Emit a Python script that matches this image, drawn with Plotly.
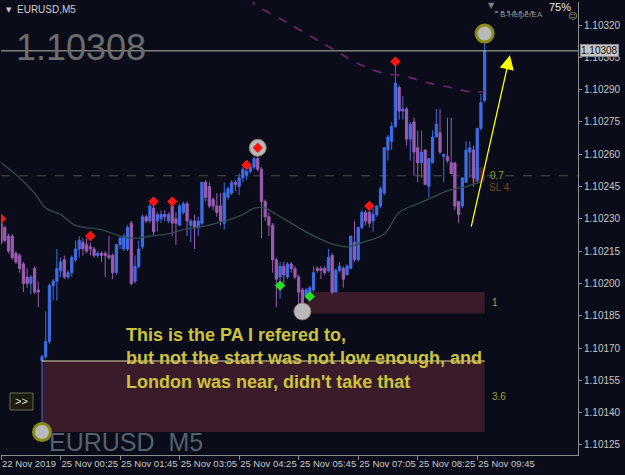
import plotly.graph_objects as go

# ---------------- data ----------------
bar_index = list(range(-11, 120))  # 5-minute bars, 0 = 25 Nov 00:00

opens = [1.10228, 1.10226, 1.10222, 1.10222, 1.10214, 1.10213, 1.10209, 1.10203, 1.10200, 1.10207, 1.10197,
         1.10164, 1.10166, 1.10173, 1.10199, 1.10201, 1.10206, 1.10211, 1.10203, 1.10205, 1.10211,
         1.10216, 1.10219, 1.10218, 1.10217, 1.10216, 1.10213, 1.10214, 1.10214, 1.10213, 1.10213,
         1.10205, 1.10218, 1.10216, 1.10216, 1.10228, 1.10201, 1.10208, 1.10217, 1.10231, 1.10229,
         1.10235, 1.10229, 1.10230, 1.10232, 1.10229, 1.10236, 1.10230, 1.10227, 1.10233, 1.10237,
         1.10227, 1.10229, 1.10226, 1.10228, 1.10247, 1.10245, 1.10239, 1.10236, 1.10236, 1.10228,
         1.10240, 1.10242, 1.10247, 1.10245, 1.10249, 1.10250, 1.10252, 1.10254, 1.10258, 1.10253,
         1.10238, 1.10231, 1.10227, 1.10211, 1.10203, 1.10208, 1.10203, 1.10209, 1.10207, 1.10203,
         1.10197, 1.10194, 1.10196, 1.10197, 1.10207, 1.10207, 1.10207, 1.10206, 1.10213, 1.10196,
         1.10206, 1.10207, 1.10204, 1.10207, 1.10219, 1.10211, 1.10226, 1.10233, 1.10233, 1.10229,
         1.10232, 1.10236, 1.10242, 1.10262, 1.10266, 1.10273, 1.10291, 1.10280, 1.10281, 1.10267,
         1.10275, 1.10263, 1.10256, 1.10262, 1.10245, 1.10256, 1.10268, 1.10270, 1.10259, 1.10259,
         1.10256, 1.10256, 1.10238, 1.10236, 1.10247, 1.10261, 1.10262, 1.10248, 1.10272, 1.10285]

highs = [1.10229, 1.10227, 1.10223, 1.10223, 1.10215, 1.10214, 1.10210, 1.10207, 1.10204, 1.10208, 1.10201,
         1.10167, 1.10187, 1.10200, 1.10202, 1.10216, 1.10212, 1.10213, 1.10206, 1.10213, 1.10220,
         1.10222, 1.10221, 1.10221, 1.10219, 1.10217, 1.10215, 1.10215, 1.10215, 1.10222, 1.10214,
         1.10218, 1.10222, 1.10223, 1.10227, 1.10229, 1.10213, 1.10220, 1.10232, 1.10232, 1.10237,
         1.10236, 1.10233, 1.10234, 1.10234, 1.10233, 1.10236, 1.10233, 1.10237, 1.10238, 1.10238,
         1.10230, 1.10232, 1.10231, 1.10247, 1.10248, 1.10247, 1.10240, 1.10242, 1.10242, 1.10247,
         1.10245, 1.10248, 1.10248, 1.10251, 1.10254, 1.10254, 1.10255, 1.10259, 1.10263, 1.10254,
         1.10239, 1.10233, 1.10228, 1.10212, 1.10210, 1.10210, 1.10210, 1.10210, 1.10208, 1.10204,
         1.10198, 1.10198, 1.10199, 1.10208, 1.10208, 1.10208, 1.10208, 1.10216, 1.10214, 1.10207,
         1.10210, 1.10208, 1.10209, 1.10222, 1.10229, 1.10226, 1.10234, 1.10234, 1.10234, 1.10235,
         1.10236, 1.10245, 1.10263, 1.10269, 1.10275, 1.10302, 1.10292, 1.10287, 1.10282, 1.10275,
         1.10277, 1.10271, 1.10271, 1.10262, 1.10258, 1.10271, 1.10281, 1.10281, 1.10260, 1.10277,
         1.10277, 1.10256, 1.10238, 1.10249, 1.10266, 1.10266, 1.10264, 1.10272, 1.10288, 1.10314]

lows = [1.10218, 1.10219, 1.10214, 1.10211, 1.10209, 1.10205, 1.10196, 1.10198, 1.10195, 1.10195, 1.10189,
        1.10131, 1.10165, 1.10172, 1.10192, 1.10192, 1.10203, 1.10202, 1.10202, 1.10203, 1.10210,
        1.10212, 1.10213, 1.10214, 1.10213, 1.10212, 1.10212, 1.10210, 1.10203, 1.10211, 1.10202,
        1.10204, 1.10216, 1.10215, 1.10215, 1.10199, 1.10200, 1.10207, 1.10216, 1.10228, 1.10228,
        1.10222, 1.10224, 1.10228, 1.10229, 1.10228, 1.10222, 1.10218, 1.10227, 1.10232, 1.10222,
        1.10219, 1.10216, 1.10222, 1.10227, 1.10238, 1.10235, 1.10234, 1.10231, 1.10227, 1.10225,
        1.10239, 1.10241, 1.10243, 1.10241, 1.10247, 1.10248, 1.10251, 1.10253, 1.10252, 1.10221,
        1.10229, 1.10222, 1.10205, 1.10189, 1.10193, 1.10199, 1.10202, 1.10205, 1.10202, 1.10190,
        1.10186, 1.10193, 1.10192, 1.10196, 1.10205, 1.10202, 1.10204, 1.10205, 1.10195, 1.10196,
        1.10205, 1.10198, 1.10204, 1.10207, 1.10210, 1.10210, 1.10225, 1.10227, 1.10226, 1.10224,
        1.10231, 1.10235, 1.10241, 1.10257, 1.10262, 1.10272, 1.10276, 1.10276, 1.10264, 1.10257,
        1.10250, 1.10247, 1.10249, 1.10246, 1.10240, 1.10256, 1.10268, 1.10260, 1.10247, 1.10256,
        1.10251, 1.10234, 1.10228, 1.10235, 1.10247, 1.10249, 1.10245, 1.10247, 1.10271, 1.10284]

closes = [1.10219, 1.10220, 1.10215, 1.10212, 1.10210, 1.10207, 1.10200, 1.10200, 1.10203, 1.10196, 1.10196,
          1.10166, 1.10173, 1.10199, 1.10201, 1.10207, 1.10210, 1.10203, 1.10205, 1.10212, 1.10216,
          1.10220, 1.10216, 1.10215, 1.10216, 1.10213, 1.10214, 1.10213, 1.10213, 1.10212, 1.10205,
          1.10218, 1.10221, 1.10222, 1.10226, 1.10200, 1.10208, 1.10216, 1.10231, 1.10229, 1.10236,
          1.10224, 1.10232, 1.10232, 1.10231, 1.10232, 1.10228, 1.10228, 1.10236, 1.10237, 1.10229,
          1.10229, 1.10226, 1.10229, 1.10247, 1.10240, 1.10236, 1.10236, 1.10233, 1.10229, 1.10242,
          1.10244, 1.10247, 1.10246, 1.10249, 1.10253, 1.10252, 1.10254, 1.10258, 1.10253, 1.10238,
          1.10231, 1.10227, 1.10211, 1.10202, 1.10208, 1.10204, 1.10209, 1.10207, 1.10203, 1.10196,
          1.10191, 1.10197, 1.10198, 1.10205, 1.10206, 1.10206, 1.10205, 1.10212, 1.10196, 1.10206,
          1.10208, 1.10202, 1.10208, 1.10222, 1.10211, 1.10226, 1.10233, 1.10229, 1.10228, 1.10232,
          1.10236, 1.10244, 1.10263, 1.10268, 1.10273, 1.10293, 1.10280, 1.10281, 1.10267, 1.10274,
          1.10261, 1.10256, 1.10261, 1.10246, 1.10258, 1.10268, 1.10274, 1.10261, 1.10260, 1.10257,
          1.10251, 1.10236, 1.10232, 1.10249, 1.10262, 1.10263, 1.10249, 1.10272, 1.10284, 1.10308]

tick_index = [-11, 5, 21, 37, 53, 69, 85, 101, 117]
tick_labels = ["22 Nov 2019", "25 Nov 00:25", "25 Nov 01:45", "25 Nov 03:05", "25 Nov 04:25",
               "25 Nov 05:45", "25 Nov 07:05", "25 Nov 08:25", "25 Nov 09:45"]
price_ticks = [1.10125, 1.10140, 1.10155, 1.10170, 1.10185, 1.10200, 1.10215, 1.10230,
               1.10245, 1.10260, 1.10275, 1.10290, 1.10305, 1.10320]

slow_ma_index = [-11, -6, -2, 1, 5, 9, 16, 21, 25, 29, 34, 38, 42, 47, 51, 54, 57, 60, 63, 67,
                 72, 77, 82, 86, 92, 96, 101, 105, 109, 114, 118]
slow_ma = [1.10256, 1.10249, 1.10242, 1.10235, 1.10232, 1.10227, 1.10225, 1.10222, 1.10221, 1.10222,
           1.10223, 1.10225, 1.10226, 1.10228, 1.10230, 1.10232, 1.10235, 1.10235, 1.10232, 1.10228,
           1.10223, 1.10219, 1.10217, 1.10219, 1.10223, 1.10233, 1.10237, 1.10240, 1.10243, 1.10245,
           1.10247]

fast_ma_index = [56, 57, 65, 73, 79, 85, 91, 98, 104, 110, 115, 119]
fast_ma = [1.10333, 1.10330, 1.10322, 1.10314, 1.10308, 1.10302, 1.10298, 1.10296, 1.10293,
           1.10291, 1.10289, 1.10289]

fractal_up_index = [-11, 13, 30, 35, 55, 58, 88, 95]
fractal_up_price = [1.10230, 1.10222, 1.10238, 1.10238, 1.10255, 1.10263, 1.10236, 1.10303]
fractal_dn_index = [64, 72]
fractal_dn_price = [1.10199, 1.10194]

circle_index = [0, 58, 70, 119]
circle_price = [1.10131, 1.10263, 1.10187, 1.10316]

zone_start = [0, 71.3]
zone_end = [119, 119]
zone_top = [1.10164, 1.10196]
zone_bottom = [1.10131, 1.10186]
zone_labels = ["3.6", "1"]

level_price = 1.10250
current_price = 1.10308
arrow_from = (115.3, 1.102257)
arrow_to = (125.8, 1.10306)

# ---------------- styling ----------------
BG = "#0a0d19"
BULL = "#3f6ce6"
BEAR = "#9a5cb0"
AXIS = "#8c8c8c"
TXT = "#c8c8c8"
FONT = "Liberation Sans"

W, H = 625, 475
ML, MR, MT, MB = 1, 47, 2, 20
PW, PH = W - ML - MR, H - MT - MB


def px(x):
    return (x - ML) / PW


def py(y):
    return 1 - (y - MT) / PH


fig = go.Figure()

# highlight circles (behind candles)
fig.add_trace(go.Scatter(
    x=circle_index, y=circle_price, mode="markers", hoverinfo="skip",
    marker=dict(size=17, color="rgba(200,200,200,0.92)",
                line=dict(color=["#8a8a14", "#8c7a60", "#8c7a60", "#8a8a14"], width=[3, 1, 1, 3]))))

# moving averages
fig.add_trace(go.Scatter(x=slow_ma_index, y=slow_ma, mode="lines", hoverinfo="skip",
                         line=dict(color="#2f4d4f", width=1.3, shape="spline")))
fig.add_trace(go.Scatter(x=fast_ma_index, y=fast_ma, mode="lines", hoverinfo="skip",
                         line=dict(color="#7a1f78", width=1.6, dash="dash", shape="spline")))

# candles
fig.add_trace(go.Candlestick(
    x=bar_index, open=opens, high=highs, low=lows, close=closes, whiskerwidth=0,
    increasing=dict(line=dict(color=BULL, width=1), fillcolor=BULL),
    decreasing=dict(line=dict(color=BEAR, width=1), fillcolor=BEAR),
    hoverinfo="skip"))

# fractal diamonds
fig.add_trace(go.Scatter(x=fractal_up_index, y=fractal_up_price, mode="markers", hoverinfo="skip",
                         marker=dict(symbol="diamond", size=8, color="#ff1414")))
fig.add_trace(go.Scatter(x=fractal_dn_index, y=fractal_dn_price, mode="markers", hoverinfo="skip",
                         marker=dict(symbol="diamond", size=8, color="#22e022")))

shapes = []
for xs, xe, top, bot in zip(zone_start, zone_end, zone_top, zone_bottom):
    shapes.append(dict(type="rect", xref="x", yref="y", x0=xs, x1=xe, y0=bot, y1=top,
                       fillcolor="#3a1b29", line=dict(width=0), layer="below"))
shapes.append(dict(type="rect", xref="x", yref="y", x0=115.5, x1=119, y0=1.10247, y1=1.10254,
                   fillcolor="#4a1f22", line=dict(width=0), layer="below"))
shapes.append(dict(type="line", xref="x", yref="y", x0=zone_start[0], x1=zone_end[0],
                   y0=zone_top[0], y1=zone_top[0], line=dict(color="#e8d6a8", width=1)))
shapes.append(dict(type="line", xref="paper", yref="y", x0=0, x1=1, y0=level_price, y1=level_price,
                   line=dict(color="#4c4c4c", width=1, dash="dash"), layer="below"))
shapes.append(dict(type="line", xref="paper", yref="y", x0=0, x1=1, y0=current_price, y1=current_price,
                   line=dict(color="#b8b8b8", width=1)))
# ">>" button
shapes.append(dict(type="rect", xref="paper", yref="paper", x0=px(10), x1=px(33), y0=py(410), y1=py(393),
                   fillcolor="#1c1c0e", line=dict(color="#6a6a5a", width=1)))
# top-right dotted line
shapes.append(dict(type="line", xref="paper", yref="paper", x0=px(495), x1=px(536), y0=py(12), y1=py(12),
                   line=dict(color="#d0d0d0", width=1, dash="dot")))

ann = []
ann.append(dict(xref="paper", yref="paper", x=px(14), y=py(48), xanchor="left", yanchor="middle",
                text="1.10308", showarrow=False, font=dict(family=FONT, size=36, color="#6c6c6c")))
ann.append(dict(xref="paper", yref="paper", x=px(4), y=py(10), xanchor="left", yanchor="middle",
                text="▼", showarrow=False, font=dict(family="DejaVu Sans", size=7, color="#c8c8c8")))
ann.append(dict(xref="paper", yref="paper", x=px(15), y=py(10), xanchor="left", yanchor="middle",
                text="EURUSD,M5", showarrow=False, font=dict(family=FONT, size=10, color="#d0d0d0")))
ann.append(dict(xref="paper", yref="paper", x=px(47), y=py(442), xanchor="left", yanchor="middle",
                text="EURUSD  M5", showarrow=False, font=dict(family=FONT, size=25, color="#55606e")))
lines = ["This is the PA I refered to,", "but not the start was not low enough, and",
         "London was near, didn't take that"]
for t, yy in zip(lines, [335, 358, 382]):
    ann.append(dict(xref="paper", yref="paper", x=px(124), y=py(yy), xanchor="left", yanchor="middle",
                    text=f"<b>{t}</b>", showarrow=False,
                    font=dict(family=FONT, size=18, color="#cdc33c")))
for lab, top, bot in zip(zone_labels, zone_top, zone_bottom):
    ann.append(dict(xref="x", yref="y", x=120.3, y=(top + bot) / 2, xanchor="left", yanchor="middle",
                    text=lab, showarrow=False, font=dict(family=FONT, size=10, color="#a0a038")))
ann.append(dict(xref="paper", yref="paper", x=px(488), y=py(176), xanchor="left", yanchor="middle",
                text="0.7", showarrow=False, font=dict(family=FONT, size=10, color="#9c9c30")))
ann.append(dict(xref="paper", yref="paper", x=px(487), y=py(187), xanchor="left", yanchor="middle",
                text="SL 4", showarrow=False, font=dict(family=FONT, size=10, color="#7a4a1c")))
ann.append(dict(xref="paper", yref="paper", x=px(21.5), y=py(401), xanchor="center", yanchor="middle",
                text=">>", showarrow=False, font=dict(family=FONT, size=11, color="#e0e0e0")))
# price label on axis
ann.append(dict(xref="paper", yref="y", x=px(580), y=current_price, xanchor="left", yanchor="middle",
                text="1.10308", showarrow=False, bgcolor="#c4c4c4", bordercolor="#8a8a8a", borderwidth=1,
                borderpad=0, font=dict(family=FONT, size=10, color="#101010")))
# top-right indicator texts
ann.append(dict(xref="paper", yref="paper", x=px(491), y=py(5), xanchor="center", yanchor="middle",
                text="▼", showarrow=False, font=dict(family="DejaVu Sans", size=8, color="#808080")))
ann.append(dict(xref="paper", yref="paper", x=px(545), y=py(14), xanchor="right", yanchor="middle",
                text="B-HelperEA", showarrow=False, font=dict(family=FONT, size=8, color="#909090")))
ann.append(dict(xref="paper", yref="paper", x=px(547), y=py(7), xanchor="left", yanchor="middle",
                text="75%", showarrow=False, font=dict(family=FONT, size=11, color="#e8e8e8")))
ann.append(dict(xref="paper", yref="paper", x=px(572), y=py(16), xanchor="center", yanchor="middle",
                text="☺", showarrow=False, font=dict(family="DejaVu Sans", size=9, color="#a0a0a0")))
# yellow arrow
ann.append(dict(xref="x", yref="y", axref="x", ayref="y", x=arrow_to[0], y=arrow_to[1],
                ax=arrow_from[0], ay=arrow_from[1], text="", showarrow=True,
                arrowhead=2, arrowsize=2.2, arrowwidth=1.3, arrowcolor="#ffff00"))

fig.update_layout(
    width=W, height=H, margin=dict(l=ML, r=MR, t=MT, b=MB, autoexpand=False),
    paper_bgcolor=BG, plot_bgcolor=BG, showlegend=False,
    boxgap=0.4, boxgroupgap=0,
    shapes=shapes, annotations=ann,
    xaxis=dict(range=[-11.02, 144.09], tickmode="array", tickvals=tick_index, ticktext=tick_labels,
               tickangle=0, automargin=False,
               showgrid=False, zeroline=False, showline=True, linecolor=AXIS, linewidth=1,
               ticks="outside", ticklen=4, tickcolor=AXIS, ticklabelposition="outside right",
               tickfont=dict(family=FONT, size=9.5, color=TXT), rangeslider=dict(visible=False),
               fixedrange=True),
    yaxis=dict(range=[1.1012035, 1.1033068], side="right", tickmode="array", tickvals=price_ticks,
               ticktext=[f"{v:.5f}" for v in price_ticks], showgrid=False, zeroline=False,
               automargin=False,
               showline=True, linecolor=AXIS, linewidth=1, ticks="outside", ticklen=3, tickcolor=AXIS,
               tickfont=dict(family=FONT, size=10, color=TXT), fixedrange=True),
)

fig.write_html("out.html")
